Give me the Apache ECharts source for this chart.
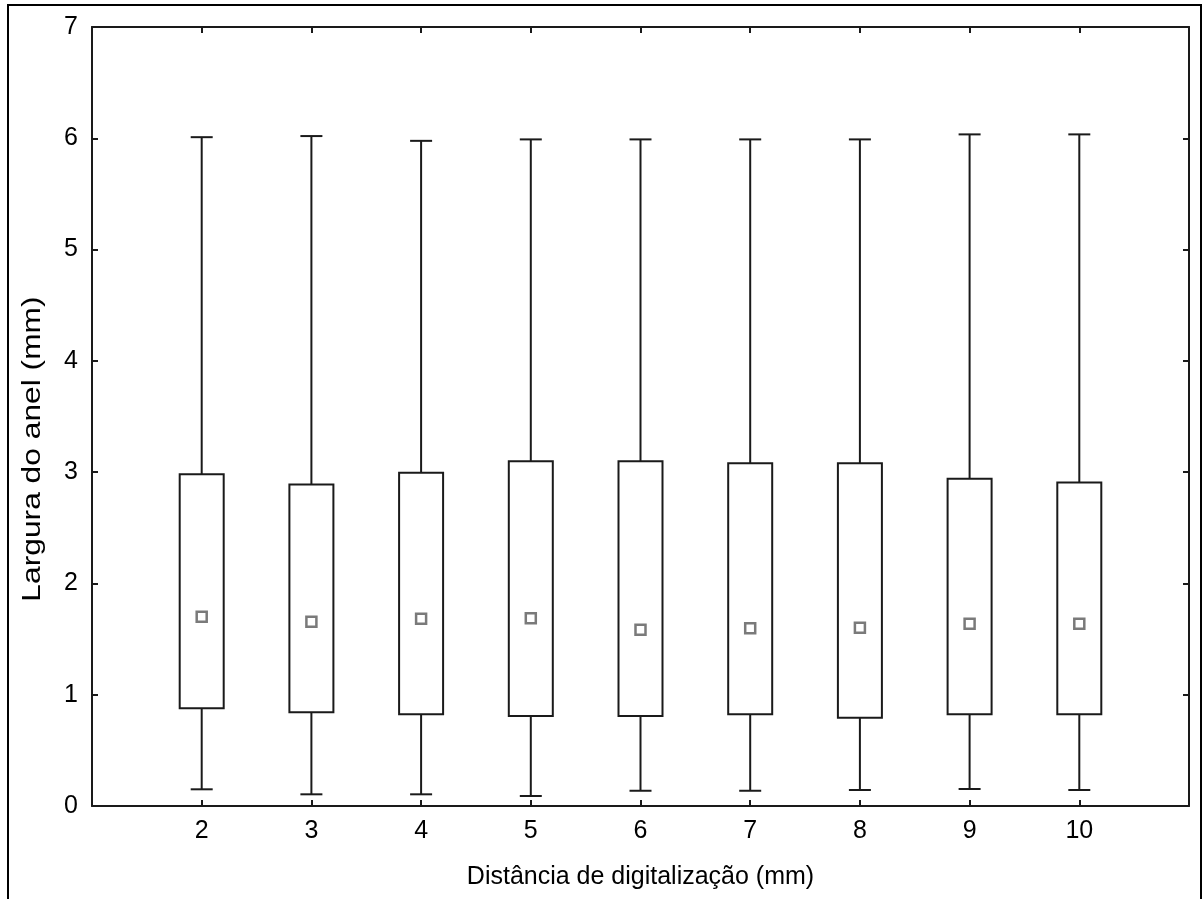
<!DOCTYPE html>
<html>
<head>
<meta charset="utf-8">
<script src="https://cdn.jsdelivr.net/npm/echarts@6/dist/echarts.min.js"></script>
<style>
html,body{margin:0;padding:0;background:#fff;}
#chart{width:1203px;height:899px;}
</style>
</head>
<body>
<div id="chart"></div>
<script>
// Data
const categories = [2, 3, 4, 5, 6, 7, 8, 9, 10];
const whiskerMin = [0.15, 0.105, 0.105, 0.09, 0.137, 0.137, 0.144, 0.153, 0.144];
const q1 = [0.878, 0.842, 0.824, 0.809, 0.809, 0.824, 0.793, 0.824, 0.824];
const center = [1.70, 1.656, 1.683, 1.687, 1.584, 1.597, 1.602, 1.638, 1.638];
const q3 = [2.98, 2.89, 2.995, 3.097, 3.097, 3.079, 3.079, 2.941, 2.908];
const whiskerMax = [6.01, 6.02, 5.977, 5.99, 5.99, 5.99, 5.99, 6.035, 6.035];
const yTicks = [0, 1, 2, 3, 4, 5, 6, 7];
const xTitle = 'Distância de digitalização (mm)';
const yTitle = 'Largura do anel (mm)';

const FONT = "'Liberation Sans', Arial, sans-serif";
const LINE = '#1a1a1a';
const TEXT = '#000';
const BOX_W = 44, CAP_W = 22, MARK = 10;

const seriesData = categories.map((c, i) => [c, whiskerMin[i], q1[i], center[i], q3[i], whiskerMax[i]]);

const chart = echarts.init(document.getElementById('chart'), null, {renderer: 'canvas'});

function renderItem(params, api) {
  const x = api.value(0);
  const pMin = api.coord([x, api.value(1)]);
  const pQ1 = api.coord([x, api.value(2)]);
  const pC = api.coord([x, api.value(3)]);
  const pQ3 = api.coord([x, api.value(4)]);
  const pMax = api.coord([x, api.value(5)]);
  const cx = pC[0];
  const ls = {stroke: LINE, lineWidth: 2, fill: null};
  return {
    type: 'group',
    children: [
      {type: 'line', shape: {x1: cx, y1: pMax[1], x2: cx, y2: pQ3[1]}, style: ls},
      {type: 'line', shape: {x1: cx, y1: pQ1[1], x2: cx, y2: pMin[1]}, style: ls},
      {type: 'line', shape: {x1: cx - CAP_W / 2, y1: pMax[1], x2: cx + CAP_W / 2, y2: pMax[1]}, style: ls},
      {type: 'line', shape: {x1: cx - CAP_W / 2, y1: pMin[1], x2: cx + CAP_W / 2, y2: pMin[1]}, style: ls},
      {type: 'rect', shape: {x: cx - BOX_W / 2, y: pQ3[1], width: BOX_W, height: pQ1[1] - pQ3[1]},
        style: {stroke: LINE, lineWidth: 2, fill: '#fff'}},
      {type: 'rect', shape: {x: cx - MARK / 2, y: pC[1] - MARK / 2, width: MARK, height: MARK},
        style: {stroke: '#7a7a7a', lineWidth: 2.5, fill: '#fff'}}
    ]
  };
}

const axisLineStyle = {color: LINE, width: 2};
const xLabelFmt = v => (categories.indexOf(v) >= 0 ? String(v) : '');

const option = {
  backgroundColor: '#fff',
  animation: false,
  grid: {left: 92, top: 27, right: 14, bottom: 93, containLabel: false},
  xAxis: [
    {
      type: 'value', min: 1, max: 11, interval: 1, position: 'bottom',
      axisLine: {show: true, onZero: false, lineStyle: axisLineStyle},
      axisTick: {show: true, inside: true, length: 6, lineStyle: axisLineStyle},
      axisLabel: {show: true, formatter: xLabelFmt, margin: 13, fontFamily: FONT, fontSize: 25, color: TEXT},
      splitLine: {show: false},
      name: xTitle, nameLocation: 'middle', nameGap: 59,
      nameTextStyle: {fontFamily: FONT, fontSize: 25, color: TEXT}
    },
    {
      type: 'value', min: 1, max: 11, interval: 1, position: 'top',
      axisLine: {show: true, onZero: false, lineStyle: axisLineStyle},
      axisTick: {show: true, inside: true, length: 6, lineStyle: axisLineStyle},
      axisLabel: {show: false}, splitLine: {show: false}
    }
  ],
  yAxis: [
    {
      type: 'value', min: yTicks[0], max: yTicks[yTicks.length - 1], interval: 1, position: 'left',
      axisLine: {show: true, onZero: false, lineStyle: axisLineStyle},
      axisTick: {show: true, inside: true, length: 6, lineStyle: axisLineStyle},
      axisLabel: {show: true, margin: 14, fontFamily: FONT, fontSize: 25, color: TEXT},
      splitLine: {show: false}
    },
    {
      type: 'value', min: yTicks[0], max: yTicks[yTicks.length - 1], interval: 1, position: 'right',
      axisLine: {show: true, onZero: false, lineStyle: axisLineStyle},
      axisTick: {show: true, inside: true, length: 6, lineStyle: axisLineStyle},
      axisLabel: {show: false}, splitLine: {show: false}
    }
  ],
  graphic: [
    {type: 'rect', shape: {x: 8, y: 5, width: 1193, height: 1000}, style: {stroke: '#000', lineWidth: 2, fill: null}, silent: true, z: 100},
    {type: 'text', x: 33, y: 449, rotation: Math.PI / 2, scaleX: 1.27,
      style: {text: yTitle, font: '25px ' + FONT, fill: TEXT, align: 'center', verticalAlign: 'middle'}}
  ],
  series: [{
    type: 'custom',
    renderItem: renderItem,
    xAxisIndex: 0, yAxisIndex: 0,
    encode: {x: 0, y: [1, 2, 3, 4, 5]},
    data: seriesData,
    clip: false
  }]
};
chart.setOption(option);
</script>
</body>
</html>
